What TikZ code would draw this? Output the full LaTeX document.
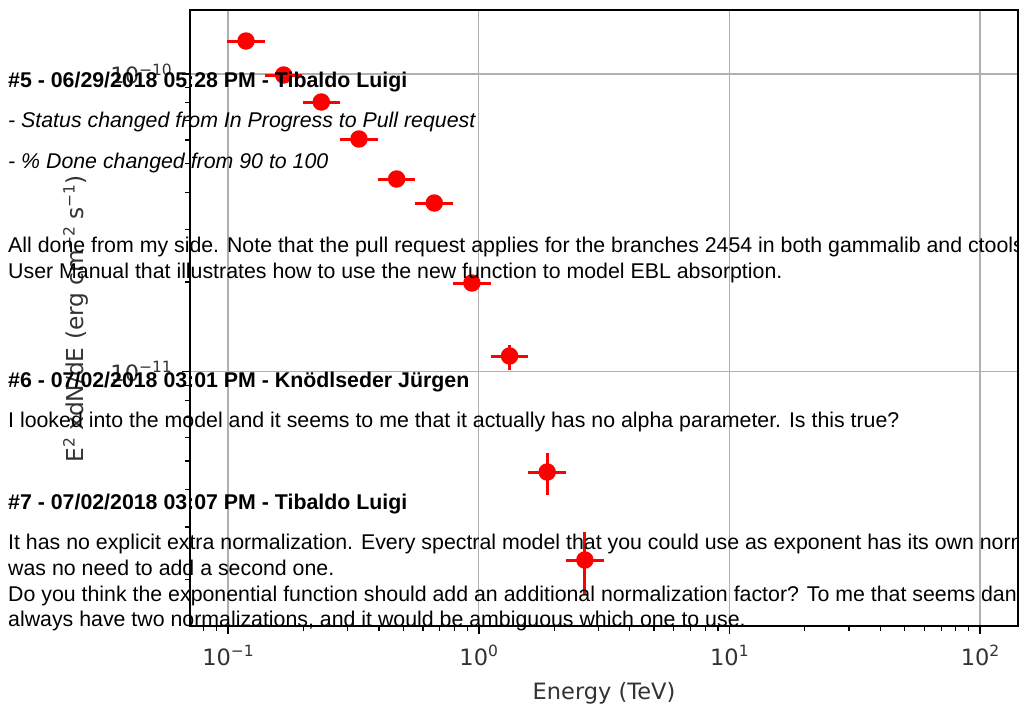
\documentclass[tikz,border=0pt]{standalone}
\usepackage{fontspec}
\setmainfont{Liberation Sans}
\newfontfamily\plotfont{DejaVu Sans}
\definecolor{plotgray}{HTML}{333333}
\definecolor{gridgray}{HTML}{B0B0B0}
\definecolor{ptred}{HTML}{FF0000}
\newcommand{\supx}[1]{\raisebox{0.36em}{\fontsize{15.5}{15.5}\selectfont #1}}
\newcommand{\tenpow}[1]{10\supx{#1}}
\begin{document}
\begin{tikzpicture}[x=1pt,y=-1pt,
  txt/.style={anchor=base west, inner sep=0pt, font=\fontsize{21.33}{25.6}\selectfont, text=black},
  ticklab/.style={inner sep=0pt, font=\plotfont\fontsize{22.5}{22.5}\selectfont, text=plotgray},
  gridline/.style={draw=gridgray, line width=1.5pt},
  axframe/.style={draw=black, line width=2pt},
  majtick/.style={draw=black, line width=1.8pt},
  mintick/.style={draw=black, line width=1.2pt},
  errbar/.style={draw=ptred, line width=3pt},
  dot/.style={circle, fill=ptred, minimum size=17.5pt, inner sep=0pt}]
\useasboundingbox (0,0) rectangle (1019,704);
\clip (0,0) rectangle (1019,704);
\fill[white] (0,0) rectangle (1019,704);
% grid
\foreach \gx in {228,478.7,729.4,980} \draw[gridline] (\gx,10) -- (\gx,626);
\foreach \gy in {74,371.5} \draw[gridline] (190,\gy) -- (1018,\gy);
% x ticks
\foreach \gx in {228,478.7,729.4,980} \draw[majtick] (\gx,626) -- (\gx,634);
\foreach \d in {-22.7,228,478.7,729.4,980}{
  \foreach \k in {2,...,9}{
    \pgfmathsetmacro\tx{\d+log10(\k)*250.7}
    \ifdim\tx pt>190pt \ifdim\tx pt<1018pt
      \draw[mintick] (\tx,626) -- (\tx,631);
    \fi\fi
  }
}
% y ticks
\foreach \gy in {74,371.5} \draw[majtick] (190,\gy) -- (182,\gy);
\foreach \d in {74,371.5,669}{
  \foreach \k in {2,...,9}{
    \pgfmathsetmacro\ty{\d-log10(\k)*297.5}
    \ifdim\ty pt>10pt \ifdim\ty pt<626pt
      \draw[mintick] (190,\ty) -- (185,\ty);
    \fi\fi
  }
}
% frame
\draw[axframe] (190,10) rectangle (1018,626);
% data points
\foreach \i/\py/\ylo/\yhi in {0/41/41/41,1/75/75/75,2/102/102/102,3/139/139/139,4/179/179/179,5/203/203/203,6/283/276/291,7/356/345/370,8/472/453/495,9/560/532/595}{
  \pgfmathsetmacro\px{246+37.65*\i}
  \draw[errbar] ({\px-18.8},\py) -- ({\px+18.8},\py);
  \draw[errbar] (\px,\ylo) -- (\px,\yhi);
  \node[dot] (p\i) at (\px,\py) {};
}
% tick labels
\node[ticklab, anchor=base] (xt1) at (228,665) {\tenpow{−1}};
\node[ticklab, anchor=base] (xt2) at (478.7,665) {\tenpow{0}};
\node[ticklab, anchor=base] (xt3) at (729.4,665) {\tenpow{1}};
\node[ticklab, anchor=base] (xt4) at (980,665) {\tenpow{2}};
\node[ticklab, anchor=east] (yt1) at (172,74) {\tenpow{−10}};
\node[ticklab, anchor=east] (yt2) at (172,371.5) {\tenpow{−11}};
\node[ticklab, anchor=base] (xlab) at (604,699) {Energy (TeV)};
\node[ticklab, anchor=base, rotate=90, font=\plotfont\fontsize{23.3}{23.3}\selectfont] (ylab) at (83,319) {E\supx{2} xdN/dE (erg cm\supx{−2} s\supx{−1})};
% overlay text
\node[txt] (h5) at (8,87) {\bfseries \#5 - 06/29/2018 05:28 PM - Tibaldo Luigi};
\node[txt] (s1) at (8,127) {\itshape - Status changed from In Progress to Pull request};
\node[txt] (s2) at (8,168) {\itshape - \% Done changed from 90 to 100};
\node[txt] (a1) at (8,252) {All done from my side. Note that the pull request applies for the branches 2454 in both gammalib and ctools};
\node[txt] (a2) at (8,278) {User Manual that illustrates how to use the new function to model EBL absorption.};
\node[txt] (h6) at (8,387) {\bfseries \#6 - 07/02/2018 03:01 PM - Knödlseder Jürgen};
\node[txt] (b1) at (8,427) {I looked into the model and it seems to me that it actually has no alpha parameter. Is this true?};
\node[txt] (h7) at (8,509) {\bfseries \#7 - 07/02/2018 03:07 PM - Tibaldo Luigi};
\node[txt] (c1) at (8,549.5) {It has no explicit extra normalization. Every spectral model that you could use as exponent has its own norm};
\node[txt] (c2) at (8,575) {was no need to add a second one.};
\node[txt] (c3) at (8,601) {Do you think the exponential function should add an additional normalization factor? To me that seems dan};
\node[txt] (c4) at (8,626.5) {always have two normalizations, and it would be ambiguous which one to use.};
\end{tikzpicture}
\end{document}
